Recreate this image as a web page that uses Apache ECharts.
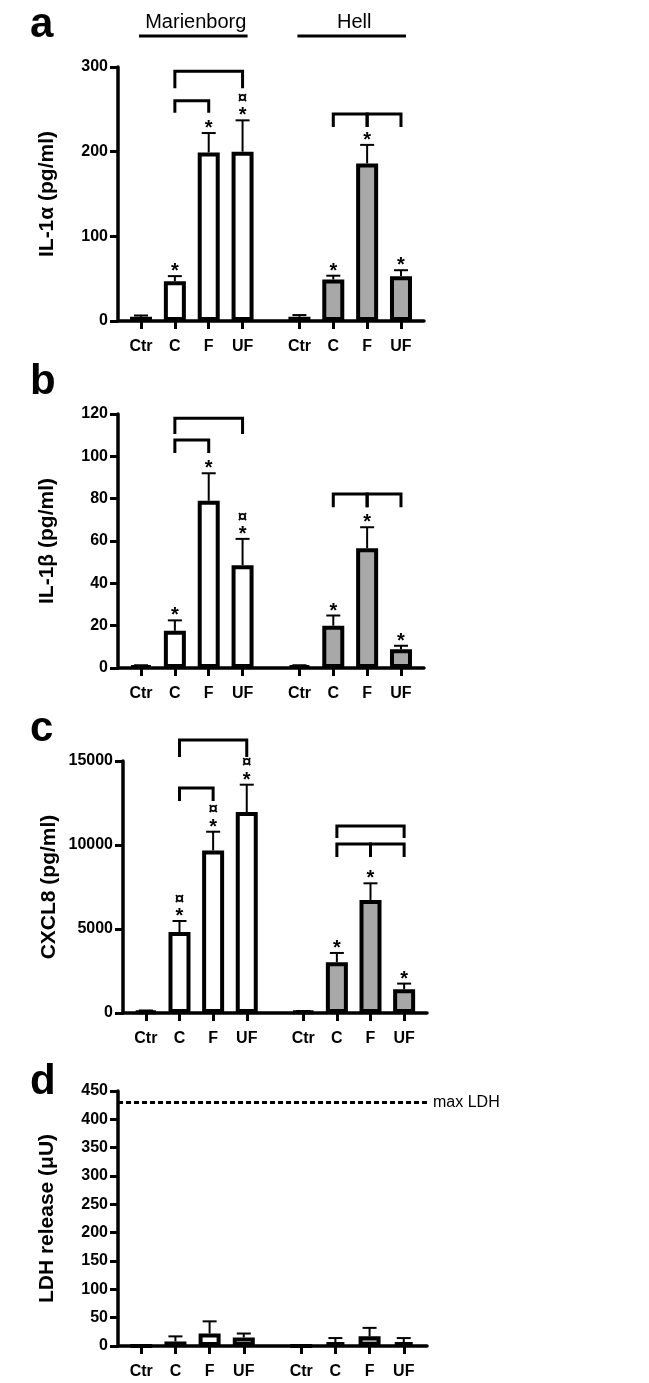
<!DOCTYPE html>
<html><head><meta charset="utf-8">
<script src="https://cdn.jsdelivr.net/npm/echarts@6/dist/echarts.min.js"></script>
<style>html,body{margin:0;padding:0;background:#fff}#c{width:649px;height:1383px}</style>
</head><body><div id="c"></div>
<script>
// ---------------- data ----------------
const groups = ['Marienborg', 'Hell'];
const conditions = ['Ctr', 'C', 'F', 'UF'];

// Panel a: IL-1α (pg/ml)
const il1aTicks = [0, 100, 200, 300];
const il1aMarienborgMean = [5, 47, 199, 200];
const il1aMarienborgSem  = [1.5, 6, 23, 37];
const il1aHellMean       = [5, 49, 186, 53];
const il1aHellSem        = [2, 4.5, 22, 7];
const il1aMarienborgMarks = ['', '*', '*', '¤*'];
const il1aHellMarks       = ['', '*', '*', '*'];
// brackets: [group, fromCondition, toCondition, topValue, legEndValue]
const il1aBrackets = [[0, 1, 3, 295, 275], [0, 1, 2, 260, 246], [1, 1, 2, 244.5, 229], [1, 2, 3, 244.5, 229]];

// Panel b: IL-1β (pg/ml)
const il1bTicks = [0, 20, 40, 60, 80, 100, 120];
const il1bMarienborgMean = [1, 17.6, 79, 48.6];
const il1bMarienborgSem  = [0.3, 4.9, 13, 12.4];
const il1bHellMean       = [1, 20, 56.6, 8.8];
const il1bHellSem        = [0.3, 4.8, 9.9, 1.7];
const il1bMarienborgMarks = ['', '*', '*', '¤*'];
const il1bHellMarks       = ['', '*', '*', '*'];
const il1bBrackets = [[0, 1, 3, 118, 110.5], [0, 1, 2, 107.7, 101.6], [1, 1, 2, 82.2, 76], [1, 2, 3, 82.2, 76]];

// Panel c: CXCL8 (pg/ml)
const cxcl8Ticks = [0, 5000, 10000, 15000];
const cxcl8MarienborgMean = [100, 4820, 9680, 11960];
const cxcl8MarienborgSem  = [50, 655, 1110, 1630];
const cxcl8HellMean       = [80, 3020, 6730, 1410];
const cxcl8HellSem        = [40, 555, 990, 340];
const cxcl8MarienborgMarks = ['', '¤*', '¤*', '¤*'];
const cxcl8HellMarks       = ['', '*', '*', '*'];
const cxcl8Brackets = [[0, 1, 3, 16250, 15240], [0, 1, 2, 13390, 12620], [1, 1, 3, 11130, 10420], [1, 1, 2, 10060, 9290], [1, 2, 3, 10060, 9290]];

// Panel d: LDH release (μU)
const ldhTicks = [0, 50, 100, 150, 200, 250, 300, 350, 400, 450];
const ldhMarienborgMean = [0, 8, 22, 15];
const ldhMarienborgSem  = [0, 9, 21.5, 7];
const ldhHellMean       = [0, 7, 17, 7];
const ldhHellSem        = [0, 7, 15, 7];
const ldhMarienborgMarks = ['', '', '', ''];
const ldhHellMarks       = ['', '', '', ''];
const ldhBrackets = [];
const ldhMax = 430;

// ---------------- layout ----------------
const FONT = 'Liberation Sans, Arial, Helvetica, sans-serif';
const GROUP_GAP = 0.68;
const posOf = (g, i) => g * (conditions.length + GROUP_GAP) + i;
const xPositions = [];
groups.forEach((g, gi) => conditions.forEach((c, ci) => xPositions.push(posOf(gi, ci))));
const xLabelOf = v => {
  const k = xPositions.findIndex(p => Math.abs(p - v) < 1e-6);
  return k < 0 ? '' : conditions[k % conditions.length];
};
const fills = ['#ffffff', '#a8a8a8'];

const panels = [
  { letter: 'a', name: 'IL-1α (pg/ml)', ticks: il1aTicks,
    mean: [il1aMarienborgMean, il1aHellMean], sem: [il1aMarienborgSem, il1aHellSem],
    marks: [il1aMarienborgMarks, il1aHellMarks], brackets: il1aBrackets,
    grid: { left: 118, right: 225, top: 67, bottom: 1062 }, letterY: 52, nameGap: 60 },
  { letter: 'b', name: 'IL-1β (pg/ml)', ticks: il1bTicks,
    mean: [il1bMarienborgMean, il1bHellMean], sem: [il1bMarienborgSem, il1bHellSem],
    marks: [il1bMarienborgMarks, il1bHellMarks], brackets: il1bBrackets,
    grid: { left: 118, right: 225, top: 414, bottom: 715 }, letterY: 409, nameGap: 60 },
  { letter: 'c', name: 'CXCL8 (pg/ml)', ticks: cxcl8Ticks,
    mean: [cxcl8MarienborgMean, cxcl8HellMean], sem: [cxcl8MarienborgSem, cxcl8HellSem],
    marks: [cxcl8MarienborgMarks, cxcl8HellMarks], brackets: cxcl8Brackets,
    grid: { left: 123, right: 222, top: 761, bottom: 370 }, letterY: 756, nameGap: 63 },
  { letter: 'd', name: 'LDH release (μU)', ticks: ldhTicks,
    mean: [ldhMarienborgMean, ldhHellMean], sem: [ldhMarienborgSem, ldhHellSem],
    marks: [ldhMarienborgMarks, ldhHellMarks], brackets: ldhBrackets,
    grid: { left: 118, right: 222, top: 1091, bottom: 37 }, letterY: 1109, nameGap: 60, maxLine: ldhMax }
];

const grid = [], xAxis = [], yAxis = [], series = [], graphic = [];

panels.forEach((p, pi) => {
  grid.push(Object.assign({ containLabel: false }, p.grid));
  xAxis.push({
    type: 'value', gridIndex: pi,
    min: -GROUP_GAP, max: posOf(groups.length - 1, conditions.length - 1) + GROUP_GAP,
    axisLine: { show: true, onZero: false, lineStyle: { color: '#000', width: 3.5 } },
    axisTick: { show: true, customValues: xPositions, length: 8, lineStyle: { color: '#000', width: 3 } },
    axisLabel: { show: true, customValues: xPositions, formatter: xLabelOf, margin: 18,
      color: '#000', fontFamily: FONT, fontWeight: 'bold', fontSize: 16 },
    splitLine: { show: false }
  });
  const t = p.ticks;
  yAxis.push({
    type: 'value', gridIndex: pi,
    min: t[0], max: t[t.length - 1], interval: t[1] - t[0],
    name: p.name, nameLocation: 'middle', nameGap: p.nameGap,
    nameTextStyle: { color: '#000', fontFamily: FONT, fontWeight: 'bold', fontSize: 21 },
    axisLine: { show: true, onZero: false, lineStyle: { color: '#000', width: 3.5 } },
    axisTick: { show: true, length: 8, lineStyle: { color: '#000', width: 3 } },
    axisLabel: { color: '#000', fontFamily: FONT, fontWeight: 'bold', fontSize: 16, margin: 10,
      formatter: v => String(v) },
    splitLine: { show: false }
  });

  const barData = [], errData = [], markList = [];
  groups.forEach((g, gi) => {
    conditions.forEach((c, ci) => {
      barData.push({ value: [posOf(gi, ci), p.mean[gi][ci]], itemStyle: { color: fills[gi] } });
      errData.push([posOf(gi, ci), p.mean[gi][ci], p.sem[gi][ci]]);
      markList.push(p.marks[gi][ci]);
    });
  });

  const barSeries = {
    type: 'bar', xAxisIndex: pi, yAxisIndex: pi, data: barData, barWidth: 22,
    itemStyle: { borderColor: '#000', borderWidth: 4 }, z: 2, animation: false
  };
  if (p.maxLine != null) {
    barSeries.markLine = {
      silent: true, symbol: 'none', animation: false,
      data: [{ yAxis: p.maxLine }],
      lineStyle: { color: '#000', width: 3, type: [5, 3] },
      label: { show: true, position: 'end', distance: 6, formatter: 'max LDH',
        color: '#000', fontFamily: FONT, fontSize: 16, fontWeight: 'normal' }
    };
  }
  series.push(barSeries);

  series.push({
    type: 'custom', xAxisIndex: pi, yAxisIndex: pi, data: errData, z: 3, clip: false, animation: false,
    renderItem: (params, api) => {
      const x = api.value(0), m = api.value(1), e = api.value(2);
      const p0 = api.coord([x, m]);
      const p1 = api.coord([x, m + e]);
      const children = [];
      if (e > 0) {
        children.push({ type: 'line', shape: { x1: p0[0], y1: p0[1], x2: p1[0], y2: p1[1] }, style: { stroke: '#000', lineWidth: 2 } });
        children.push({ type: 'line', shape: { x1: p1[0] - 7, y1: p1[1], x2: p1[0] + 7, y2: p1[1] }, style: { stroke: '#000', lineWidth: 2 } });
      }
      const mk = markList[params.dataIndex];
      if (mk.indexOf('*') >= 0) {
        children.push({ type: 'text', style: { text: '*', x: p1[0], y: p1[1] - 4.5, align: 'center', verticalAlign: 'middle',
          fill: '#000', font: 'bold 20px ' + FONT } });
      }
      if (mk.indexOf('¤') >= 0) {
        children.push({ type: 'text', style: { text: '¤', x: p1[0], y: p1[1] - 22, align: 'center', verticalAlign: 'middle',
          fill: '#000', font: 'bold 17px ' + FONT } });
      }
      return { type: 'group', children };
    }
  });

  if (p.brackets.length) {
    series.push({
      type: 'custom', xAxisIndex: pi, yAxisIndex: pi, z: 3, clip: false, animation: false,
      data: p.brackets.map(b => [posOf(b[0], b[1]), posOf(b[0], b[2]), b[3], b[4]]),
      encode: { x: [0, 1], y: [2, 3] },
      renderItem: (params, api) => {
        const a = api.coord([api.value(0), api.value(3)]);
        const b = api.coord([api.value(0), api.value(2)]);
        const c = api.coord([api.value(1), api.value(2)]);
        const d = api.coord([api.value(1), api.value(3)]);
        return { type: 'polyline', shape: { points: [a, b, c, d] },
          style: { stroke: '#000', lineWidth: 3, fill: null, lineJoin: 'miter' } };
      }
    });
  }

  graphic.push({ type: 'text', left: 30, top: p.letterY - 48, style: { text: p.letter, fill: '#000', font: 'bold 42px ' + FONT } });
});

// site headers above panel a
series.push({
  type: 'custom', xAxisIndex: 0, yAxisIndex: 0, z: 3, clip: false, animation: false,
  data: groups.map((g, gi) => [posOf(gi, 0), posOf(gi, conditions.length - 1)]),
  encode: { x: [0, 1] },
  renderItem: (params, api) => {
    const topY = api.coord([0, il1aTicks[il1aTicks.length - 1]])[1];
    const x1 = api.coord([api.value(0), 0])[0];
    const x2 = api.coord([api.value(1), 0])[0];
    const lineY = topY - 31;
    return { type: 'group', children: [
      { type: 'line', shape: { x1: x1 - 2, y1: lineY, x2: x2 + 5, y2: lineY }, style: { stroke: '#000', lineWidth: 3 } },
      { type: 'text', style: { text: groups[params.dataIndex], x: (x1 + x2) / 2 + 4, y: topY - 35,
        align: 'center', verticalAlign: 'bottom', fill: '#000', font: '20px ' + FONT } }
    ] };
  }
});

const chart = echarts.init(document.getElementById('c'), null, { renderer: 'canvas' });
chart.setOption({ animation: false, backgroundColor: '#fff', grid, xAxis, yAxis, series, graphic });
</script></body></html>
